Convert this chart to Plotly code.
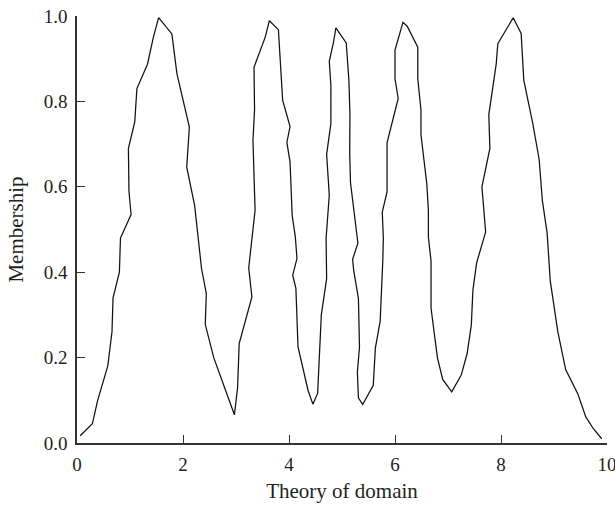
import plotly.graph_objects as go

x_vals = [0.06, 0.29, 0.39, 0.58, 0.66, 0.68, 0.80, 0.82, 1.02, 0.98, 0.97, 1.09, 1.13, 1.33, 1.44, 1.54,
          1.79, 1.885, 2.12, 2.07, 2.22, 2.35, 2.44, 2.42, 2.58, 2.97, 3.03, 3.06, 3.30, 3.24, 3.36, 3.32,
          3.35, 3.34, 3.55, 3.63, 3.80, 3.88, 4.02, 3.96, 4.02, 4.06, 4.12, 4.15, 4.07, 4.13, 4.17, 4.36,
          4.45, 4.54, 4.61, 4.71, 4.70, 4.76, 4.71, 4.79, 4.79, 4.76, 4.84, 4.885, 5.08, 5.13, 5.15, 5.145,
          5.16, 5.24, 5.30, 5.20, 5.22, 5.31, 5.33, 5.29, 5.31, 5.39, 5.59, 5.63, 5.72, 5.77, 5.78, 5.76,
          5.85, 5.85, 6.06, 6.00, 6.00, 6.15, 6.23, 6.43, 6.43, 6.49, 6.49, 6.60, 6.63, 6.63, 6.68, 6.68,
          6.80, 6.90, 7.07, 7.25, 7.36, 7.44, 7.47, 7.54, 7.71, 7.64, 7.79, 7.77, 7.91, 7.94, 8.23, 8.38,
          8.43, 8.60, 8.72, 8.78, 8.87, 8.93, 9.07, 9.22, 9.45, 9.60, 9.74, 9.90]
membership = [0.017, 0.045, 0.10, 0.18, 0.26, 0.34, 0.40, 0.48, 0.535, 0.59, 0.69, 0.752, 0.83, 0.887, 0.95, 0.996,
              0.958, 0.865, 0.74, 0.646, 0.556, 0.408, 0.35, 0.278, 0.20, 0.066, 0.13, 0.233, 0.342, 0.41, 0.545, 0.709,
              0.78, 0.88, 0.95, 0.989, 0.968, 0.803, 0.741, 0.704, 0.658, 0.533, 0.482, 0.432, 0.393, 0.362, 0.225, 0.123,
              0.091, 0.116, 0.30, 0.385, 0.48, 0.58, 0.676, 0.748, 0.838, 0.894, 0.939, 0.972, 0.937, 0.85, 0.77, 0.68,
              0.61, 0.52, 0.468, 0.43, 0.405, 0.338, 0.225, 0.166, 0.106, 0.09, 0.135, 0.223, 0.285, 0.428, 0.479, 0.541,
              0.588, 0.703, 0.807, 0.853, 0.92, 0.985, 0.976, 0.927, 0.853, 0.78, 0.722, 0.607, 0.545, 0.482, 0.426, 0.316,
              0.20, 0.149, 0.12, 0.159, 0.209, 0.276, 0.358, 0.422, 0.494, 0.60, 0.69, 0.769, 0.888, 0.935, 0.996, 0.959,
              0.85, 0.748, 0.664, 0.568, 0.492, 0.379, 0.262, 0.172, 0.115, 0.061, 0.034, 0.01]

x_ticks = [0, 2, 4, 6, 8, 10]
y_ticks = [0.0, 0.2, 0.4, 0.6, 0.8, 1.0]
y_tick_text = ["0.0", "0.2", "0.4", "0.6", "0.8", "1.0"]

font_family = "Liberation Serif"
text_color = "#231f20"

fig = go.Figure()
fig.add_trace(go.Scatter(x=x_vals, y=membership, mode="lines", cliponaxis=False,
                         line=dict(color="#111111", width=1.25), showlegend=False))

fig.update_layout(
    width=615, height=506,
    margin=dict(l=77, r=8, t=16, b=63),
    paper_bgcolor="white", plot_bgcolor="white",
    font=dict(family=font_family, size=19, color=text_color),
)
fig.update_xaxes(
    range=[0, 10], tickvals=x_ticks, ticktext=[str(t) for t in x_ticks],
    ticks="inside", ticklen=8, tickwidth=1.3, tickcolor="#333333",
    showline=True, linecolor="#333333", linewidth=1.6,
    showgrid=False, zeroline=False, automargin=False,
    ticklabeloverflow="allow", ticklabelstandoff=3,
    title=dict(text="Theory of domain", font=dict(size=21), standoff=10),
)
fig.update_yaxes(
    range=[0, 1.0], tickvals=y_ticks, ticktext=y_tick_text,
    ticks="inside", ticklen=8, tickwidth=1.3, tickcolor="#333333",
    showline=True, linecolor="#333333", linewidth=1.6,
    showgrid=False, zeroline=False, automargin=False,
    ticklabeloverflow="allow", ticklabelstandoff=4,
    title=dict(text="Membership", font=dict(size=21), standoff=14),
)

fig.write_html(
    "out.html",
    config={"displayModeBar": False},
    post_script="document.body.style.margin='0';document.body.style.overflow='hidden';"
                "document.documentElement.style.overflow='hidden';",
)
